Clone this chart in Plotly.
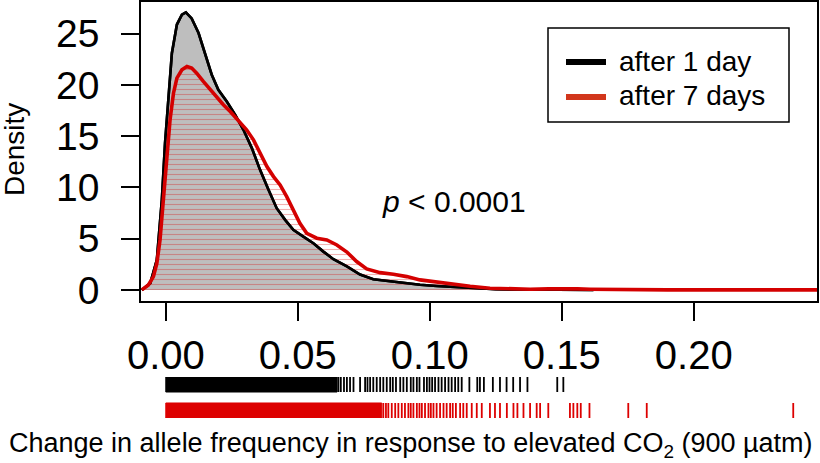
import plotly.graph_objects as go

# ---------------- data ----------------
day1_x = [-0.0091, -0.0059, -0.0034, -0.0015, -0.0003, 0.0010, 0.0023, 0.0042, 0.0061, 0.0076,
          0.0098, 0.0124, 0.0149, 0.0174, 0.0199, 0.0231, 0.0263, 0.0294, 0.0326, 0.0357,
          0.0389, 0.0420, 0.0452, 0.0483, 0.0521, 0.0559, 0.0597, 0.0635, 0.0686, 0.0736,
          0.0786, 0.0837, 0.0900, 0.0963, 0.1026, 0.1089, 0.1153, 0.1250, 0.1350, 0.1450,
          0.1550, 0.1620]
day1_y = [0.0, 0.65, 2.93, 8.79, 14.32, 19.2, 23.1, 25.9, 26.86, 27.08,
          26.5, 25.07, 22.95, 21.0, 19.53, 18.39, 17.09, 15.63, 13.84, 11.72,
          9.77, 7.98, 6.84, 5.86, 5.21, 4.56, 3.74, 3.0, 2.3, 1.5,
          1.05, 0.88, 0.72, 0.5, 0.38, 0.28, 0.14, 0.06, 0.04, 0.03,
          0.01, 0.0]

day7_x = [-0.0091, -0.0066, -0.0047, -0.0034, -0.0022, -0.0009, 0.0004, 0.0016, 0.0029, 0.0042,
          0.0061, 0.0080, 0.0098, 0.0117, 0.0142, 0.0168, 0.0193, 0.0218, 0.0244, 0.0275,
          0.0306, 0.0332, 0.0357, 0.0383, 0.0408, 0.0433, 0.0458, 0.0483, 0.0508, 0.0534,
          0.0572, 0.0610, 0.0648, 0.0686, 0.0723, 0.0761, 0.0812, 0.0862, 0.0913, 0.0963,
          0.1026, 0.1089, 0.1153, 0.1228, 0.1300, 0.1380, 0.1450, 0.1506, 0.1560, 0.1607,
          0.1680, 0.1759, 0.1820, 0.1900, 0.2100, 0.2300, 0.2380, 0.2467]
day7_y = [0.0, 0.49, 1.3, 2.6, 4.88, 8.79, 13.02, 16.6, 19.2, 20.67,
          21.48, 21.81, 21.65, 21.16, 20.35, 19.53, 18.72, 18.07, 17.41, 16.53,
          15.63, 14.65, 13.35, 12.04, 11.06, 10.25, 9.11, 7.81, 6.51, 5.53,
          5.05, 4.88, 4.39, 3.7, 2.77, 2.05, 1.69, 1.53, 1.3, 0.98,
          0.76, 0.62, 0.36, 0.17, 0.1, 0.07, 0.1, 0.13, 0.1, 0.07,
          0.04, 0.03, 0.03, 0.01, 0.005, 0.01, 0.04, 0.01]

# rug: continuous dense part (start, end) and individual ticks beyond it
day1_rug_dense = [0.0, 0.0649]
day1_rug = [0.0654, 0.0663, 0.0675, 0.0686, 0.0698, 0.0711, 0.0736, 0.0755, 0.0764, 0.0774,
            0.0786, 0.0799, 0.0812, 0.0824, 0.0837, 0.0850, 0.0860, 0.0872, 0.0888, 0.0900,
            0.0913, 0.0928, 0.0938, 0.0951, 0.0961, 0.0978, 0.0989, 0.0999, 0.1009, 0.1020,
            0.1033, 0.1045, 0.1058, 0.1071, 0.1083, 0.1096, 0.1108, 0.1121, 0.1150, 0.1180,
            0.1190, 0.1205, 0.1239, 0.1266, 0.1291, 0.1316, 0.1342, 0.1370, 0.1483, 0.1506]
day7_rug_dense = [0.0, 0.0818]
day7_rug = [0.0824, 0.0834, 0.0843, 0.0856, 0.0869, 0.0881, 0.0894, 0.0906, 0.0919, 0.0928,
            0.0938, 0.0951, 0.0961, 0.0970, 0.0982, 0.0995, 0.1004, 0.1014, 0.1026, 0.1039,
            0.1052, 0.1064, 0.1077, 0.1087, 0.1099, 0.1115, 0.1127, 0.1140, 0.1159, 0.1178,
            0.1197, 0.1228, 0.1247, 0.1266, 0.1292, 0.1317, 0.1332, 0.1355, 0.1380, 0.1405,
            0.1418, 0.1449, 0.1531, 0.1544, 0.1559, 0.1572, 0.1605, 0.1752, 0.1822, 0.2377]

x_ticks = [0.0, 0.05, 0.10, 0.15, 0.20]
x_ticklabels = ["0.00", "0.05", "0.10", "0.15", "0.20"]
y_ticks = [0, 5, 10, 15, 20, 25]
y_ticklabels = ["0", "5", "10", "15", "20", "25"]
series_names = ["after 1 day", "after 7 days"]

# ---------------- style ----------------
FONT = "Liberation Sans, Arial, Helvetica, sans-serif"
RED = "#D40000"
LEG_RED = "#D2361C"
GRAY = "#BEBEBE"
W, H = 820, 463
ML, MR, MT, MB = 141, 3, 2, 45
PW, PH = W - ML - MR, H - MT - MB


def px_x(p):
    return (p - ML) / PW


def px_y(p):
    return (H - MB - p) / PH


fig = go.Figure()

# density of day 1 (gray filled)
fig.add_trace(go.Scatter(x=day1_x, y=day1_y, mode="lines", fill="tozeroy",
                         fillcolor=GRAY, line=dict(color="black", width=2.6),
                         showlegend=False, hoverinfo="skip"))
# hatch of day 7
fig.add_trace(go.Scatter(x=day7_x, y=day7_y, mode="lines", fill="tozeroy",
                         fillcolor="rgba(0,0,0,0)",
                         fillpattern=dict(shape="-", fgcolor="rgba(215,0,0,0.6)",
                                          bgcolor="rgba(0,0,0,0)", size=5, solidity=0.22),
                         line=dict(color="rgba(0,0,0,0)", width=0),
                         showlegend=False, hoverinfo="skip"))
# black line on top of hatch
fig.add_trace(go.Scatter(x=day1_x, y=day1_y, mode="lines",
                         line=dict(color="black", width=2.6),
                         showlegend=False, hoverinfo="skip"))
# red line
fig.add_trace(go.Scatter(x=day7_x, y=day7_y, mode="lines",
                         line=dict(color=RED, width=3.6),
                         showlegend=False, hoverinfo="skip"))


# rugs
def rug_traces(dense, ticks, y0, y1, color):
    tx, ty = [], []
    for v in ticks:
        tx += [v, v, None]
        ty += [y0, y1, None]
    solid = go.Scatter(x=[dense[0], dense[1], dense[1], dense[0], dense[0]],
                       y=[y0, y0, y1, y1, y0], mode="lines", fill="toself",
                       fillcolor=color, line=dict(color=color, width=1),
                       xaxis="x2", yaxis="y2", showlegend=False, hoverinfo="skip")
    lines = go.Scatter(x=tx, y=ty, mode="lines", line=dict(color=color, width=1.8),
                       xaxis="x2", yaxis="y2", showlegend=False, hoverinfo="skip")
    return [solid, lines]


for t in rug_traces(day1_rug_dense, day1_rug, 0.634, 1.0, "black"):
    fig.add_trace(t)
for t in rug_traces(day7_rug_dense, day7_rug, 0.0, 0.366, "#DD0000"):
    fig.add_trace(t)

# manual legend (box, line samples, labels)
shapes = [
    dict(type="rect", xref="paper", yref="paper",
         x0=px_x(548), x1=px_x(789), y0=px_y(122), y1=px_y(28),
         line=dict(color="black", width=1.5), fillcolor="white", layer="above"),
    dict(type="line", xref="paper", yref="paper",
         x0=px_x(566), x1=px_x(606), y0=px_y(62), y1=px_y(62),
         line=dict(color="black", width=6), layer="above"),
    dict(type="line", xref="paper", yref="paper",
         x0=px_x(566), x1=px_x(606), y0=px_y(97), y1=px_y(97),
         line=dict(color=LEG_RED, width=6), layer="above"),
]

annotations = [
    dict(text=series_names[0], x=px_x(617), y=px_y(61), xref="paper", yref="paper",
         xanchor="left", yanchor="middle", showarrow=False, font=dict(size=28, family=FONT)),
    dict(text=series_names[1], x=px_x(617), y=px_y(96), xref="paper", yref="paper",
         xanchor="left", yanchor="middle", showarrow=False, font=dict(size=28, family=FONT)),
    dict(text="<i>p</i> &lt; 0.0001", x=px_x(454), y=px_y(202), xref="paper", yref="paper",
         xanchor="center", yanchor="middle", showarrow=False, font=dict(size=30, family=FONT)),
    dict(text="Density", x=px_x(15), y=px_y(150), xref="paper", yref="paper",
         xanchor="center", yanchor="middle",
         textangle=-90, showarrow=False, font=dict(size=28, family=FONT)),
    dict(text="Change in allele frequency in response to elevated CO<sub>2</sub> (900 µatm)",
         x=px_x(411), y=px_y(445), xref="paper", yref="paper",
         xanchor="center", yanchor="middle", showarrow=False,
         font=dict(size=27, family=FONT)),
]

fig.update_layout(
    width=W, height=H,
    margin=dict(l=ML, r=MR, t=MT, b=MB, autoexpand=False),
    paper_bgcolor="white", plot_bgcolor="white",
    font=dict(family=FONT, color="black"),
    showlegend=False,
    xaxis=dict(domain=[0, 1], range=[-0.0094, 0.2467], anchor="y",
               tickvals=x_ticks, ticktext=x_ticklabels,
               ticks="outside", ticklen=18, tickwidth=1.5, tickcolor="black",
               tickfont=dict(size=40, family=FONT),
               showline=True, linecolor="black", linewidth=1.5, mirror=True,
               showgrid=False, zeroline=False),
    yaxis=dict(domain=[px_y(301), 1], range=[-1.08, 28.1], anchor="x",
               tickvals=y_ticks, ticktext=y_ticklabels,
               ticks="outside", ticklen=18, tickwidth=1.5, tickcolor="black",
               tickfont=dict(size=39, family=FONT), ticklabelstandoff=14,
               showline=True, linecolor="black", linewidth=1.5, mirror=True,
               showgrid=False, zeroline=False),
    xaxis2=dict(matches="x", anchor="y2", visible=False, range=[-0.0094, 0.2467]),
    yaxis2=dict(domain=[0, px_y(377)], range=[0, 1], visible=False),
    shapes=shapes,
    annotations=annotations,
)

fig.write_html("out.html", config={"displayModeBar": False},
               post_script="document.body.style.margin='0px';")
